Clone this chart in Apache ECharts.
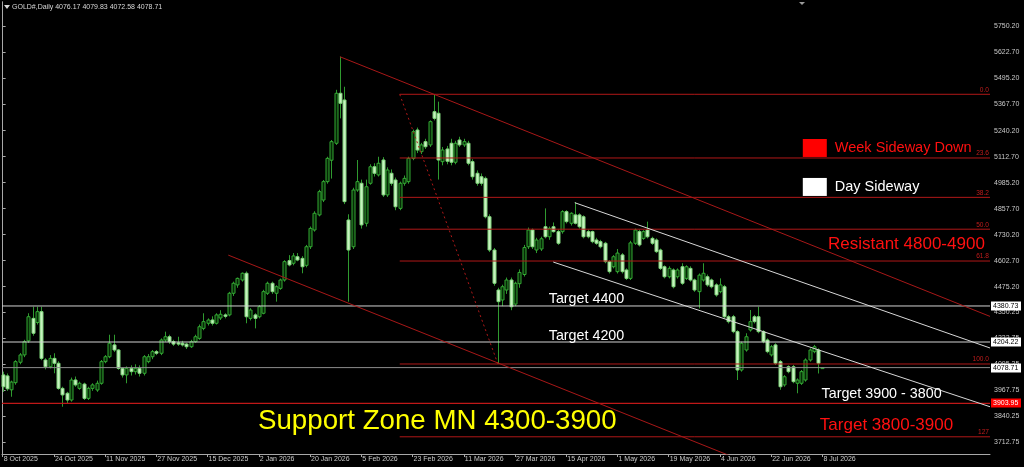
<!DOCTYPE html>
<html><head><meta charset="utf-8">
<script src="https://cdn.jsdelivr.net/npm/echarts@6/dist/echarts.min.js"></script>
<style>html,body{margin:0;padding:0;background:#000;overflow:hidden}#c{width:1024px;height:467px;background:#000}</style>
</head><body><div id="c"></div>
<script>
// ---------- DATA ----------
const symbolName = 'GOLD#,Daily';
// daily candles: [open, high, low, close], oldest first
const candles = [
[4043,4059,3960,3985],[4038,4050,3965,3975],[3970,4015,3936,4008],[4005,4115,3995,4108],[4105,4150,4095,4141],
[4141,4215,4130,4206],[4210,4345,4200,4328],[4320,4377,4235,4247],[4300,4377,4290,4353],[4353,4377,4115,4124],
[4116,4125,4070,4083],[4083,4140,4075,4124],[4124,4149,4051,4100],[4100,4110,3970,3977],[3977,3985,3887,3945],
[3953,3960,3905,3920],[3920,4030,3912,4018],[4018,4035,3985,3994],[3977,4010,3970,4002],[3998,4005,3920,3928],
[3928,3985,3920,3977],[3977,4002,3965,3994],[3969,4015,3960,4002],[4002,4116,3995,4108],[4108,4140,4100,4132],
[4132,4240,4125,4198],[4190,4240,4155,4165],[4165,4170,4068,4075],[4075,4080,4030,4043],[4043,4085,4002,4075],
[4075,4090,4040,4059],[4059,4095,4045,4075],[4075,4090,4035,4051],[4051,4140,4040,4132],[4108,4145,4100,4132],
[4132,4165,4120,4157],[4157,4165,4140,4149],[4149,4222,4140,4214],[4214,4255,4205,4230],[4230,4240,4195,4206],
[4206,4215,4185,4194],[4200,4230,4185,4194],[4198,4210,4182,4190],[4194,4200,4170,4181],[4181,4215,4175,4206],
[4206,4240,4200,4230],[4222,4290,4215,4279],[4271,4345,4262,4304],[4296,4320,4285,4312],[4312,4330,4285,4296],
[4296,4345,4290,4337],[4322,4360,4312,4340],[4337,4345,4320,4330],[4337,4450,4330,4443],[4443,4500,4430,4492],
[4484,4520,4470,4516],[4508,4545,4500,4541],[4541,4550,4296,4328],[4320,4370,4310,4361],[4337,4345,4271,4320],
[4328,4385,4320,4377],[4345,4460,4340,4451],[4443,4500,4435,4492],[4492,4500,4440,4451],[4443,4482,4402,4475],
[4467,4515,4460,4508],[4508,4605,4500,4598],[4603,4630,4575,4582],[4590,4640,4580,4626],[4622,4640,4600,4606],
[4614,4625,4541,4573],[4580,4680,4570,4671],[4671,4770,4660,4761],[4753,4845,4745,4835],[4827,4950,4820,4941],
[4900,4998,4890,4990],[4990,5112,4980,5104],[5095,5194,5005,5186],[5178,5440,5170,5423],[5423,5602,5300,5374],
[5390,5455,4880,4892],[4802,4830,4402,4655],[4671,4960,4660,4949],[4949,5096,4940,4990],[4982,5000,4760,4778],
[4786,5000,4770,4965],[4982,5075,4975,5063],[5063,5080,5015,5031],[5023,5112,5015,5080],[5096,5110,4915,4925],
[4925,5060,4915,5047],[5031,5050,4970,4982],[4998,5010,4850,4867],[4859,4990,4850,4982],[4982,5020,4970,5006],
[4990,5112,4980,5104],[5104,5245,5095,5235],[5243,5255,5130,5145],[5137,5180,5125,5170],[5186,5200,5150,5161],
[5170,5290,5160,5284],[5333,5419,5290,5300],[5325,5382,5000,5096],[5088,5160,5070,5145],[5150,5165,5075,5090],
[5178,5200,5070,5085],[5085,5190,5075,5178],[5194,5210,5160,5170],[5170,5200,5160,5186],[5178,5190,5070,5080],
[5088,5100,5000,5014],[5031,5045,4970,4982],[5014,5030,4970,4982],[5006,5015,4810,4818],[4818,4830,4645,4655],
[4655,4665,4480,4492],[4459,4470,4097,4402],[4410,4485,4380,4475],[4459,4520,4440,4508],[4508,4520,4360,4377],
[4390,4500,4380,4492],[4490,4560,4470,4545],[4535,4680,4525,4667],[4671,4765,4660,4753],[4753,4760,4660,4671],
[4655,4715,4640,4704],[4660,4720,4650,4710],[4769,4859,4712,4720],[4720,4770,4705,4761],[4769,4790,4740,4745],
[4745,4755,4680,4688],[4745,4850,4735,4843],[4843,4850,4785,4794],[4786,4840,4775,4835],[4827,4890,4780,4786],
[4827,4835,4760,4769],[4818,4825,4712,4720],[4745,4755,4712,4720],[4745,4750,4688,4696],[4704,4715,4680,4688],
[4696,4705,4663,4671],[4688,4695,4590,4598],[4598,4605,4540,4549],[4573,4630,4565,4622],[4549,4660,4540,4640],
[4631,4640,4540,4549],[4557,4565,4508,4516],[4516,4700,4508,4690],[4688,4760,4680,4753],[4745,4755,4672,4680],
[4712,4752,4705,4745],[4753,4794,4712,4720],[4712,4720,4680,4688],[4704,4712,4640,4647],[4655,4662,4557,4565],
[4573,4580,4516,4524],[4524,4575,4516,4565],[4557,4565,4467,4475],[4524,4565,4515,4557],[4573,4590,4484,4492],
[4516,4580,4508,4573],[4565,4575,4500,4508],[4508,4515,4450,4459],[4451,4540,4369,4532],[4508,4590,4500,4541],
[4524,4535,4475,4484],[4508,4515,4467,4475],[4484,4492,4426,4435],[4451,4516,4443,4484],[4475,4484,4320,4328],
[4328,4337,4295,4304],[4328,4337,4247,4255],[4255,4262,4018,4067],[4067,4206,4059,4198],[4165,4247,4157,4230],
[4263,4361,4255,4304],[4328,4337,4295,4304],[4328,4377,4247,4255],[4255,4262,4198,4206],[4214,4222,4149,4157],
[4141,4190,4133,4181],[4190,4198,4092,4100],[4108,4116,3970,3985],[3994,4042,3985,4034],[4083,4090,4051,4059],
[4083,4092,4002,4010],[4002,4026,3953,4018],[4002,4067,3994,4059],[4018,4124,4010,4116],[4116,4173,4108,4165],
[4157,4190,4149,4181],[4165,4173,4050,4100],[4076.17,4079.83,4072.58,4078.71]
];
const xTickBars = [0,12,24,36,48,60,72,84,96,108,120,132,144,156,168,180,192];
const xTickLabels = ['8 Oct 2025','24 Oct 2025','11 Nov 2025','27 Nov 2025','15 Dec 2025','2 Jan 2026','20 Jan 2026','5 Feb 2026','23 Feb 2026','11 Mar 2026','27 Mar 2026','15 Apr 2026','1 May 2026','19 May 2026','4 Jun 2026','22 Jun 2026','8 Jul 2026'];
const yTickValues = [5750.20,5622.70,5495.20,5367.70,5240.20,5112.70,4985.20,4857.70,4730.20,4602.70,4475.20,4350.25,4222.75,4095.25,3967.75,3840.25,3712.75];
const whiteLevels = [4380.73, 4204.22];
const redLevel = 3903.95;
const fibNames = ['0.0','23.6','38.2','50.0','61.8','100.0','127'];
const fibPrices = [5418, 5106, 4913, 4757, 4601, 4096.5, 3739.7];
const fibStartBar = 93;
const fibDiagonal = [[93, 5418], [116, 4096.5]];
const redChannelUpper = [[79, 5602], [231.25, 4329.7]];
const redChannelLower = [[52.85, 4630], [231.25, 3137]];
const whiteChannelUpper = [[134, 4886.8], [231.25, 4175]];
const whiteChannelLower = [[128.96, 4596], [231.25, 3887]];
const noteTexts = ['Week Sideway Down','Day Sideway','Resistant 4800-4900','Target 4400','Target 4200','Target 3900 - 3800','Target 3800-3900','Support Zone MN 4300-3900'];
const noteAnchors = [[194.9,5155],[194.9,4964],[193.3,4684.5],[127.9,4415],[127.9,4231],[191.8,3948],[191.4,3797.6],[59.8,3817]];

// ---------- LAYOUT / STYLE ----------
const X_MIN = -0.15, X_MAX = 231.25, Y_MIN = 3655.45, Y_MAX = 5870.25;
const GRID = {left: 2, top: 2, width: 988, height: 452};
const noteStyles = [
  {color:'#ff1010', size:14.5}, {color:'#ffffff', size:14.5}, {color:'#ff1010', size:17},
  {color:'#ffffff', size:14.3}, {color:'#ffffff', size:14.3}, {color:'#ffffff', size:14.3},
  {color:'#ff1010', size:17}, {color:'#ffff00', size:27.7}
];
const FONT = '"Liberation Sans", Arial, sans-serif';
const last = candles[candles.length - 1];
const lastClose = last[3];

const chart = echarts.init(document.getElementById('c'), null, {renderer: 'canvas'});

function seg(points, color, width, type, z) {
  return {type: 'line', data: points, symbol: 'none', showSymbol: false, silent: true,
    lineStyle: {color: color, width: width, type: type || 'solid'}, z: z || 4, clip: true, animation: false};
}

const series = [];
series.push({
  type: 'custom', z: 2, animation: false, silent: true,
  data: candles.map((c, i) => [i, c[0], c[1], c[2], c[3]]),
  encode: {x: 0, y: [1, 2, 3, 4]},
  renderItem: function (params, api) {
    const i = api.value(0), o = api.value(1), h = api.value(2), l = api.value(3), c = api.value(4);
    const po = api.coord([i, o]), pc = api.coord([i, c]), ph = api.coord([i, h]), pl = api.coord([i, l]);
    const cx = Math.round(po[0]) + 0.5;
    const bull = c >= o;
    const top = Math.min(po[1], pc[1]), bot = Math.max(po[1], pc[1]);
    return {type: 'group', children: [
      {type: 'line', shape: {x1: cx, y1: ph[1], x2: cx, y2: pl[1]}, style: {stroke: '#2f9a2f', lineWidth: 1}},
      {type: 'rect', shape: {x: cx - 1.5, y: top, width: 3, height: Math.max(bot - top, 1)},
        style: {fill: bull ? '#062806' : '#c8f2c0', stroke: bull ? '#33a833' : '#7fd47a', lineWidth: 1}}
    ]};
  }
});
// horizontal levels (full width)
whiteLevels.forEach(p => series.push(seg([[X_MIN, p], [X_MAX, p]], '#d2d2d2', 1)));
series.push(seg([[X_MIN, lastClose], [X_MAX, lastClose]], '#8c8c8c', 1));
series.push(seg([[X_MIN, redLevel], [X_MAX, redLevel]], '#c01818', 1.3));
// fibonacci levels
fibPrices.forEach(p => series.push(seg([[fibStartBar, p], [X_MAX, p]], '#b01818', 1)));
series.push(seg(fibDiagonal, '#b01818', 1, [2, 3]));
// channels
series.push(seg(redChannelUpper, '#a81818', 1));
series.push(seg(redChannelLower, '#a81818', 1));
series.push(seg(whiteChannelUpper, '#d8d8d8', 1));
series.push(seg(whiteChannelLower, '#d8d8d8', 1));

const axisColor = '#a8a8a8';
chart.setOption({
  backgroundColor: '#000',
  animation: false,
  grid: {left: GRID.left, top: GRID.top, width: GRID.width, height: GRID.height, containLabel: false},
  xAxis: {
    type: 'value', min: X_MIN, max: X_MAX, position: 'bottom',
    axisLine: {show: true, lineStyle: {color: axisColor, width: 1}},
    splitLine: {show: false},
    axisTick: {show: true, customValues: xTickBars, length: 3, lineStyle: {color: axisColor}},
    axisLabel: {show: true, customValues: xTickBars, color: '#c8c8c8', fontSize: 7, fontFamily: FONT,
      align: 'left', margin: 2, padding: [0, 0, 0, 1],
      formatter: v => xTickLabels[xTickBars.indexOf(Math.round(v))] || ''}
  },
  yAxis: [{
    type: 'value', min: Y_MIN, max: Y_MAX, position: 'right',
    axisLine: {show: true, lineStyle: {color: axisColor, width: 1}},
    splitLine: {show: false},
    axisTick: {show: true, customValues: yTickValues, length: 3, lineStyle: {color: axisColor}},
    axisLabel: {show: true, customValues: yTickValues, color: '#c8c8c8', fontSize: 7, fontFamily: FONT,
      margin: 4, formatter: v => Number(v).toFixed(2)}
  }, {
    type: 'value', min: Y_MIN, max: Y_MAX, position: 'left',
    axisLine: {show: true, lineStyle: {color: axisColor, width: 1}},
    splitLine: {show: false}, axisTick: {show: false}, axisLabel: {show: false}
  }],
  series: series
});

// ---------- annotations (anchored in data space) ----------
function P(bar, price) { return chart.convertToPixel({xAxisIndex: 0, yAxisIndex: 0}, [bar, price]); }
const rightX = GRID.left + GRID.width;
const g = [];
// header
g.push({type: 'polygon', shape: {points: [[4, 5], [10, 5], [7, 9]]}, style: {fill: '#d8d8d8'}, z: 20});
g.push({type: 'text', x: 12, y: 7, style: {text: symbolName + ' ' + last.map(v => v.toFixed(2)).join(' '),
  fill: '#d8d8d8', font: '7px ' + FONT, textVerticalAlign: 'middle'}, z: 20});
g.push({type: 'polygon', shape: {points: [[799, 2], [805, 2], [802, 5]]}, style: {fill: '#9a9a9a'}, z: 20});
// fib labels
fibPrices.forEach((p, k) => {
  const y = P(0, p)[1];
  g.push({type: 'text', x: rightX - 1, y: y - 1, style: {text: fibNames[k], fill: '#c01c1c',
    font: '6.6px ' + FONT, textAlign: 'right', textVerticalAlign: 'bottom'}, z: 20});
});
// notes
noteTexts.forEach((t, k) => {
  const pt = P(noteAnchors[k][0], noteAnchors[k][1]);
  g.push({type: 'text', x: pt[0], y: pt[1], style: {text: t, fill: noteStyles[k].color,
    font: noteStyles[k].size + 'px ' + FONT, textVerticalAlign: 'middle'}, z: 20});
});
// legend squares next to the first two notes
[[0, '#ff0000'], [1, '#ffffff']].forEach(([k, col]) => {
  const pt = P(noteAnchors[k][0], noteAnchors[k][1]);
  g.push({type: 'rect', shape: {x: pt[0] - 32, y: pt[1] - 9, width: 24, height: 18}, style: {fill: col}, z: 20});
});
// price boxes on the right scale
function priceBox(p, bg, fg) {
  const y = P(0, p)[1];
  g.push({type: 'rect', shape: {x: rightX + 1, y: Math.round(y) - 4.5, width: 30, height: 9}, style: {fill: bg}, z: 30});
  g.push({type: 'text', x: rightX + 3, y: Math.round(y), style: {text: p.toFixed(2), fill: fg,
    font: '7px ' + FONT, textVerticalAlign: 'middle'}, z: 31});
}
whiteLevels.forEach(p => priceBox(p, '#ffffff', '#000000'));
priceBox(lastClose, '#ffffff', '#000000');
priceBox(redLevel, '#ff0000', '#ffffff');
chart.setOption({graphic: g});
</script>
</body></html>
